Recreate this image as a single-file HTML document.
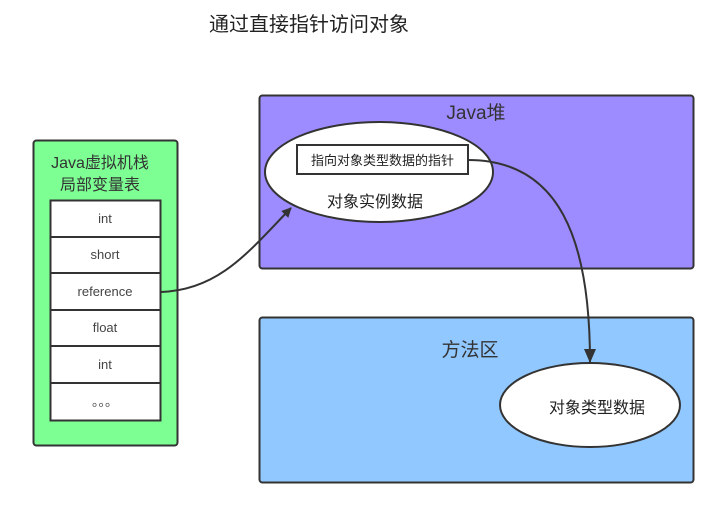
<!DOCTYPE html>
<html><head><meta charset="utf-8"><style>
body{margin:0;background:#fff;}
svg text{font-family:"Liberation Sans","Noto Sans CJK SC",sans-serif;}
</style></head><body>
<svg width="720" height="503" viewBox="0 0 720 503" xmlns="http://www.w3.org/2000/svg">
<defs><marker id="ah" markerWidth="10" markerHeight="10" refX="9" refY="5" orient="auto" markerUnits="userSpaceOnUse"><path d="M0,0 L10,5 L0,10 Z" fill="#333"/></marker>
<marker id="ah2" markerWidth="14" markerHeight="12" refX="13" refY="6" orient="auto" markerUnits="userSpaceOnUse"><path d="M0,0 L14,6 L0,12 Z" fill="#333"/></marker></defs>
<text x="309" y="31" font-size="20" text-anchor="middle" fill="#222">通过直接指针访问对象</text>
<rect x="33.5" y="140.5" width="144" height="305" rx="3" fill="#7dff93" stroke="#333" stroke-width="2"/>
<text x="100" y="168" font-size="16" text-anchor="middle" fill="#333">Java虚拟机栈</text>
<text x="100" y="190" font-size="16" text-anchor="middle" fill="#333">局部变量表</text>
<g stroke="#333" stroke-width="2" fill="#fff">
<rect x="50.5" y="200.5" width="110" height="220"/>
<line x1="50" y1="237" x2="161" y2="237"/><line x1="50" y1="273" x2="161" y2="273"/>
<line x1="50" y1="310" x2="161" y2="310"/><line x1="50" y1="346" x2="161" y2="346"/>
<line x1="50" y1="383" x2="161" y2="383"/></g>
<g font-size="13" text-anchor="middle" fill="#444">
<text x="105" y="223">int</text><text x="105" y="259">short</text><text x="105" y="296">reference</text>
<text x="105" y="332">float</text><text x="105" y="369">int</text><text x="105" y="406">。。。</text></g>
<rect x="259.5" y="95.5" width="434" height="173" rx="3" fill="#9d8cff" stroke="#333" stroke-width="2"/>
<text x="476" y="119" font-size="19" text-anchor="middle" fill="#333">Java堆</text>
<ellipse cx="379" cy="172" rx="114" ry="50" fill="#fff" stroke="#333" stroke-width="2"/>
<rect x="297" y="145" width="171" height="29" fill="#fff" stroke="#333" stroke-width="2"/>
<text x="382.5" y="165" font-size="13" text-anchor="middle" fill="#222">指向对象类型数据的指针</text>
<text x="375" y="207" font-size="16" text-anchor="middle" fill="#222">对象实例数据</text>
<rect x="259.5" y="317.5" width="434" height="165" rx="3" fill="#90c8ff" stroke="#333" stroke-width="2"/>
<text x="470" y="356" font-size="19" text-anchor="middle" fill="#333">方法区</text>
<ellipse cx="590" cy="405" rx="90" ry="42" fill="#fff" stroke="#333" stroke-width="2"/>
<text x="597" y="413" font-size="16" text-anchor="middle" fill="#222">对象类型数据</text>
<path d="M161,292 C220,290 250,250 291,208" fill="none" stroke="#333" stroke-width="2" marker-end="url(#ah)"/>
<path d="M468,160 C560,160 590,240 590,362" fill="none" stroke="#333" stroke-width="2" marker-end="url(#ah2)"/>
</svg>
</body></html>
